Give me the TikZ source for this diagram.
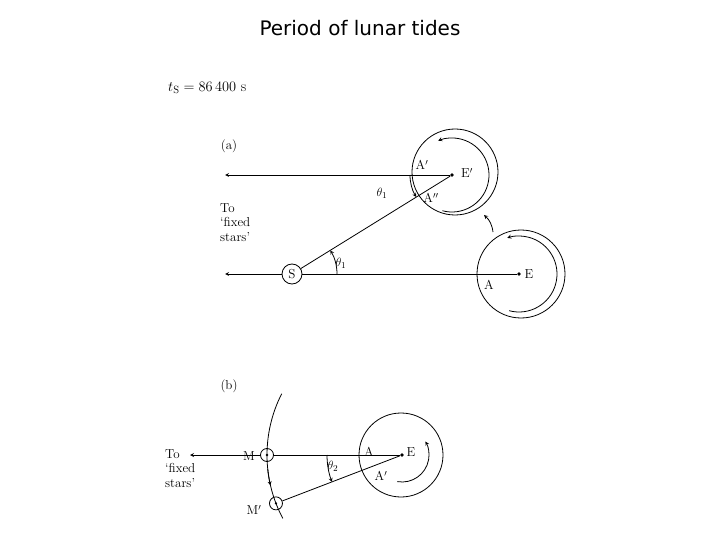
\documentclass[tikz,border=0pt]{standalone}
\usepackage{fontspec}
\newfontfamily\titlefont{DejaVu Sans}
\begin{document}
\begin{tikzpicture}[x=1pt,y=-1pt,
  lab/.style={font=\fontsize{13}{14}\selectfont,inner sep=1pt},
  ln/.style={line width=0.8pt},
  arr/.style={ln,-stealth},
  dot/.style={circle,fill,inner sep=1.3pt}]
\useasboundingbox (0,0) rectangle (720,540);
\node[font=\titlefont\fontsize{20}{24}\selectfont] (title) at (360,28) {Period of lunar tides};
\node[anchor=west,font=\fontsize{15}{17}\selectfont,inner sep=0pt] (ts) at (168,88) {$t_{\mathrm S}=86\,400\ \mathrm{s}$};
% (a)
\node[lab] (la) at (229,146) {(a)};
\node[dot] (Ep) at (452,175) {};
\node[dot] (E) at (519,274) {};
\node[circle,draw,ln,minimum size=20pt,inner sep=0pt,font=\fontsize{13}{14}\selectfont] (S) at (292,274) {S};
\coordinate (a1) at (225,175);
\coordinate (a2) at (225,274);
\draw[ln] (455,172) circle (43);
\draw[ln] (521,274) circle (44);
\draw[arr] (Ep) -- (a1);
\draw[ln] (S) -- (E);
\draw[arr] (S) -- (a2);
\draw[ln] (S) -- (Ep);
\draw[arr] (Ep) ++(105:37) arc (105:-112:37);
\draw[arr] (E) ++(105:38) arc (105:-108:38);
\coordinate (c1) at (493,232);
\coordinate (c2) at (484,215);
\draw[arr] (c1) to[bend right=20] (c2);
\draw[arr] (S) ++(0:45) arc (0:-31.7:45);
\draw[arr] (Ep) ++(180:42) arc (180:148.3:42);
\node[lab] (t1) at (341,263) {$\theta_1$};
\node[lab] (t2) at (382,193) {$\theta_1$};
\node[lab] (Apr) at (422,165) {A$'$};
\node[lab] (App) at (431,198) {A$''$};
\node[lab] (Epl) at (467,173) {E$'$};
\node[lab] (Al) at (489,285) {A};
\node[lab] (El) at (529,274) {E};
\node[lab,align=left,anchor=north west,font=\fontsize{13}{14.5}\selectfont] (fs) at (219,202) {To\\`fixed\\stars'};
% (b)
\node[lab] (lb) at (229,386) {(b)};
\node[dot] (E2) at (402,455) {};
\draw[ln] (401,455) circle (42);
\draw[arr] (E2) ++(100:27) arc (100:-30:27);
\draw[ln] (E2) ++(152:135) arc (152:207:135);
\node[circle,draw,ln,minimum size=13pt,inner sep=0pt] (M) at (267,455) {};
\node[dot,inner sep=0.9pt] (Md) at (267,455) {};
\path (E2) ++(159:135) node[circle,draw,ln,minimum size=13pt,inner sep=0pt] (Mp) {};
\node[dot,inner sep=0.9pt] (Mpd) at (Mp) {};
\draw[ln] (M) -- (E2);
\draw[ln] (Mp) -- (E2);
\coordinate (b1) at (190,455);
\draw[arr] (M) -- (b1);
\draw[arr] (E2) ++(174:135) arc (174:167:135);
\draw[arr] (E2) ++(180:75) arc (180:159:75);
\node[lab] (t3) at (333,466) {$\theta_2$};
\node[lab] (Ab) at (369,452) {A};
\node[lab] (Abp) at (381,476) {A$'$};
\node[lab] (Eb) at (411,452) {E};
\node[lab] (Ml) at (249,456) {M};
\node[lab] (Mpl) at (254,510) {M$'$};
\node[lab,align=left,anchor=north west,font=\fontsize{13}{14.5}\selectfont] (fs2) at (164,448) {To\\`fixed\\stars'};
\end{tikzpicture}
\end{document}
